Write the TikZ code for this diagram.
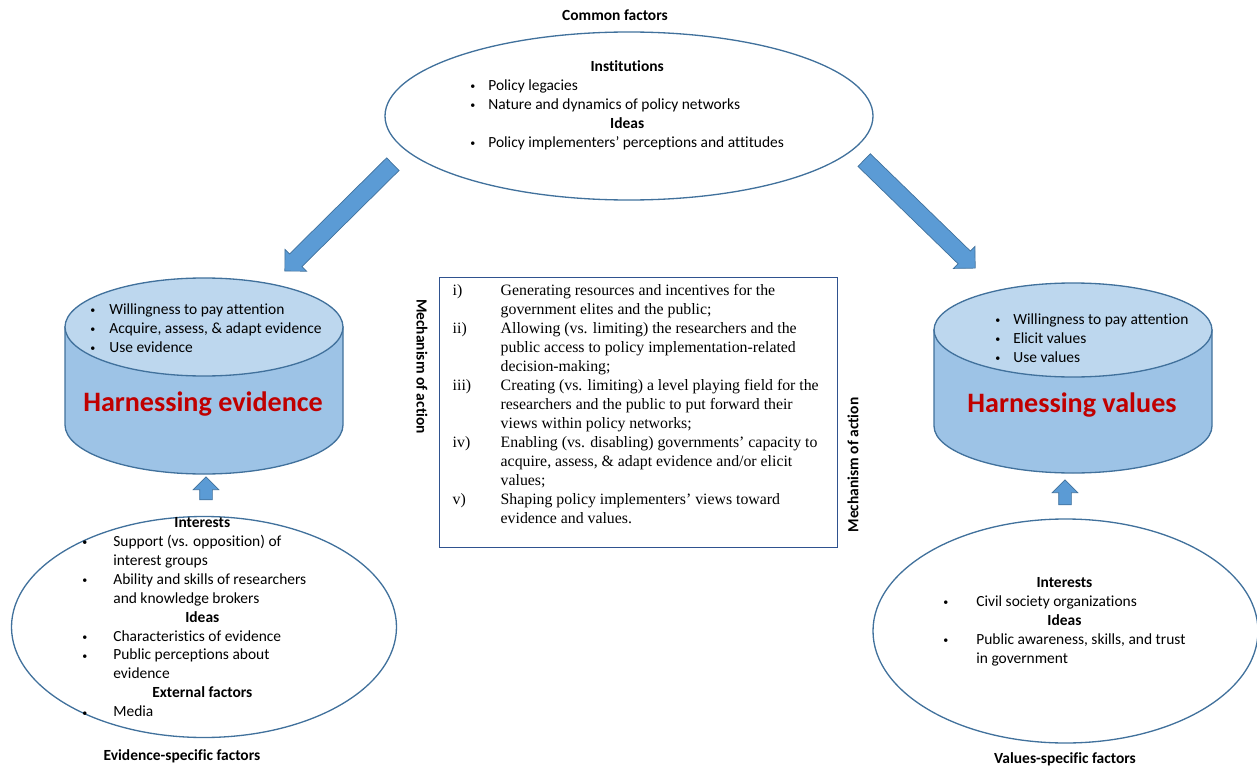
\documentclass[tikz,border=0pt]{standalone}
\usepackage{fontspec}
\setmainfont{Carlito}[Ligatures={TeX,NoCommon}]
\newfontfamily\timesfont{Liberation Serif}
\usepackage{tikz}
\usetikzlibrary{shapes.geometric, shapes.arrows, calc}
\tikzset{
	factors/.style={
		draw=myblue,
		ellipse,
		line width=0.75pt,
		inner sep=0pt
	},
	bigarrow/.style={
		single arrow,
		draw=myblue,
		fill=arrowblue,
		inner xsep=0pt,
		inner ysep=0.17cm,
		single arrow head extend=0.13cm
	},
	smallarrow/.style={
		single arrow,
		draw=myblue,
		fill=arrowblue,
		inner xsep=0pt,
		inner ysep=0.12cm,
		single arrow head extend=0.13cm,
		minimum height=0.46cm
	}
}
\definecolor{myblue}{RGB}{65,113,156}
\definecolor{boxblue}{RGB}{47,82,143}
\definecolor{arrowblue}{RGB}{91,155,213}
\definecolor{cylside}{RGB}{157,195,230}
\definecolor{cyltop}{RGB}{189,215,238}
\definecolor{titlered}{RGB}{192,0,0}
\newcommand{\bul}{\raisebox{0.1ex}{\scalebox{0.65}{\textbullet}}}

\begin{document}
\begin{tikzpicture}
	\tikzset{txt/.style={font=\fontsize{8.8}{10.8}\selectfont, inner sep=0pt}}
	\tikzset{head/.style={inner sep=0pt, font=\fontsize{8.8}{10.8}\selectfont\bfseries}}
	\tikzset{title/.style={inner sep=0pt, text=titlered, font=\fontsize{16}{18}\selectfont\bfseries}}
	\tikzset{cylbody/.style={draw=myblue, fill=cylside, line width=0.75pt}}
	\tikzset{cyllid/.style={ellipse, draw=myblue, fill=cyltop, line width=0.75pt, inner sep=0pt}}
	\tikzset{mechbox/.style={draw=boxblue, line width=0.8pt, inner xsep=0.26cm, inner ysep=0.09cm, font=\timesfont\fontsize{9}{10.8}\selectfont}}
	\useasboundingbox (0,0) rectangle (25.14,-15.36);
	
	% common factors
	\node(common) at (12.58,-2.32) [factors, minimum width=9.76cm, minimum height=3.36cm] {};
	\node(common_lbl) at (12.3,-0.41) [head, anchor=base] {Common factors};
	\node(common_txt) at (9.40,-1.15) [txt, anchor=north west] {\begin{tabular}{@{}p{0.36cm}@{}l@{}}
		\multicolumn{2}{c}{\textbf{Institutions}}\\
		\bul & Policy legacies\\
		\bul & Nature and dynamics of policy networks\\
		\multicolumn{2}{c}{\textbf{Ideas}}\\
		\bul & Policy implementers’ perceptions and attitudes
	\end{tabular}};
	
	\coordinate(ev_tail) at (7.92,-3.22);
	\coordinate(ev_tip) at (5.76,-5.36);
	\coordinate(val_tail) at (17.22,-3.14);
	\coordinate(val_tip) at (19.44,-5.30);
	\node(ev_arrow) at ($(ev_tail)!0.5!(ev_tip)$) [bigarrow, rotate=224.7, minimum height=3.04cm] {};
	\node(val_arrow) at ($(val_tail)!0.5!(val_tip)$) [bigarrow, rotate=-44.2, minimum height=3.10cm] {};
	
	% harnessing evidence
	\filldraw[cylbody] (1.30,-6.54) -- (1.30,-8.50) arc[start angle=180, end angle=360, x radius=2.78cm, y radius=0.98cm] -- (6.86,-6.54) -- cycle;
	\node(ev_cyl) at (4.08,-6.54) [cyllid, minimum width=5.56cm, minimum height=1.96cm] {};
	\node(ev_list) at (1.80,-6.01) [txt, anchor=north west] {\begin{tabular}{@{}p{0.38cm}@{}l@{}}
		\bul & Willingness to pay attention\\
		\bul & Acquire, assess, \& adapt evidence\\
		\bul & Use evidence
	\end{tabular}};
	\node(ev_title) at (4.06,-8.22) [title, anchor=base] {Harnessing evidence};
	
	% harnessing values
	\filldraw[cylbody] (18.68,-6.60) -- (18.68,-8.52) arc[start angle=180, end angle=360, x radius=2.78cm, y radius=0.94cm] -- (24.24,-6.60) -- cycle;
	\node(val_cyl) at (21.46,-6.60) [cyllid, minimum width=5.56cm, minimum height=1.88cm] {};
	\node(val_list) at (19.90,-6.21) [txt, anchor=north west] {\begin{tabular}{@{}p{0.36cm}@{}l@{}}
		\bul & Willingness to pay attention\\
		\bul & Elicit values\\
		\bul & Use values
	\end{tabular}};
	\node(val_title) at (21.44,-8.25) [title, anchor=base] {Harnessing values};
	
	% mechanism of action
	\node(mech_l) at (8.44,-7.33) [head, rotate=-90] {Mechanism of action};
	\node(mech_r) at (17.06,-9.30) [head, rotate=90] {Mechanism of action};
	\node(mech) at (8.78,-5.54) [mechbox, anchor=north west] {\parbox[c][5.22cm][t]{7.44cm}{\begin{tabular}{@{}p{0.96cm}@{}l@{}}
		i) & Generating resources and incentives for the\\
		& government elites and the public;\\
		ii) & Allowing (vs. limiting) the researchers and the\\
		& public access to policy implementation-related\\
		& decision-making;\\
		iii) & Creating (vs. limiting) a level playing field for the\\
		& researchers and the public to put forward their\\
		& views within policy networks;\\
		iv) & Enabling (vs. disabling) governments’ capacity to\\
		& acquire, assess, \& adapt evidence and/or elicit\\
		& values;\\
		v) & Shaping policy implementers’ views toward\\
		& evidence and values.
	\end{tabular}}};
	
	% specific factors
	\node(ev_up) at (4.12,-9.83) [smallarrow, rotate=90] {};
	\node(val_up) at (21.30,-9.91) [smallarrow, rotate=90, minimum height=0.5cm] {};
	\node(ev_fac) at (4.08,-12.54) [factors, minimum width=7.70cm, minimum height=4.42cm] {};
	\node(val_fac) at (21.31,-12.62) [factors, minimum width=7.70cm, minimum height=4.48cm] {};
	\node(ev_fac_txt) at (1.64,-10.27) [txt, anchor=north west] {\begin{tabular}{@{}p{0.62cm}@{}l@{\hspace{0.32cm}}}
		\multicolumn{2}{c}{\textbf{Interests}}\\
		\bul & Support (vs. opposition) of\\
		& interest groups\\
		\bul & Ability and skills of researchers\\
		& and knowledge brokers\\
		\multicolumn{2}{c}{\textbf{Ideas}}\\
		\bul & Characteristics of evidence\\
		\bul & Public perceptions about\\
		& evidence\\
		\multicolumn{2}{c}{\textbf{External factors}}\\
		\bul & Media
	\end{tabular}};
	\node(val_fac_txt) at (18.86,-11.47) [txt, anchor=north west] {\begin{tabular}{@{}p{0.66cm}@{}l@{}}
		\multicolumn{2}{c}{\textbf{Interests}}\\
		\bul & Civil society organizations\\
		\multicolumn{2}{c}{\textbf{Ideas}}\\
		\bul & Public awareness, skills, and trust\\
		& in government
	\end{tabular}};
	\node(ev_fac_lbl) at (3.64,-15.21) [head, anchor=base] {Evidence-specific factors};
	\node(val_fac_lbl) at (21.30,-15.27) [head, anchor=base] {Values-specific factors};
\end{tikzpicture}
\end{document}
